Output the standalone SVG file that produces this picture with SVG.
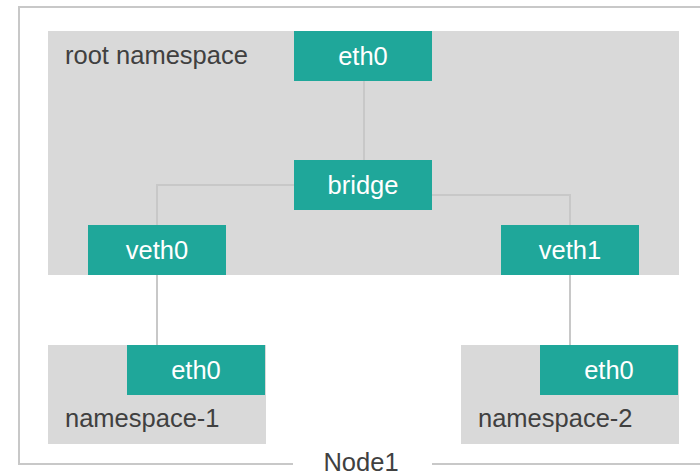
<svg xmlns="http://www.w3.org/2000/svg" width="700" height="474" viewBox="0 0 700 474">
<style>
.ns{fill:#d9d9d9}
.box{fill:#1fa79a}
.wt{font-family:"Liberation Sans",Arial,sans-serif;font-size:25.5px;fill:#ffffff;text-anchor:middle}
.lt{font-family:"Liberation Sans",Arial,sans-serif;font-size:25.5px;fill:#404040}
.ln{fill:none;stroke:#c8c8c8;stroke-width:2}
</style>
<rect width="700" height="474" fill="#ffffff"/>
<g id="node1">
<path class="ln" d="M293,464 H19 V7 H702 M432,464 H702"/>
<text class="lt" x="361" y="471" text-anchor="middle">Node1</text>
</g>
<g id="root-namespace">
<rect class="ns" x="48" y="31" width="631" height="244"/>
<text class="lt" x="65" y="64">root namespace</text>
</g>
<g id="namespace-1">
<rect class="ns" x="48" y="345" width="218" height="99"/>
<text class="lt" x="65" y="427">namespace-1</text>
</g>
<g id="namespace-2">
<rect class="ns" x="461" y="345" width="218" height="99"/>
<text class="lt" x="478" y="427">namespace-2</text>
</g>
<g id="connectors">
<path class="ln" d="M364,81 V160"/>
<path class="ln" d="M294,185 H157 V225"/>
<path class="ln" d="M432,195 H570 V225"/>
<path class="ln" d="M157,275 V345"/>
<path class="ln" d="M570,275 V345"/>
</g>
<g id="eth0-root">
<rect class="box" x="294" y="31" width="138" height="50"/>
<text class="wt" x="363" y="64.5">eth0</text>
</g>
<g id="bridge">
<rect class="box" x="294" y="160" width="138" height="50"/>
<text class="wt" x="363" y="193.5">bridge</text>
</g>
<g id="veth0">
<rect class="box" x="88" y="225" width="138" height="50"/>
<text class="wt" x="157" y="258.5">veth0</text>
</g>
<g id="veth1">
<rect class="box" x="501" y="225" width="138" height="50"/>
<text class="wt" x="570" y="258.5">veth1</text>
</g>
<g id="eth0-ns1">
<rect class="box" x="127" y="345" width="138" height="50"/>
<text class="wt" x="196" y="378.5">eth0</text>
</g>
<g id="eth0-ns2">
<rect class="box" x="540" y="345" width="138" height="50"/>
<text class="wt" x="609" y="378.5">eth0</text>
</g>
</svg>
